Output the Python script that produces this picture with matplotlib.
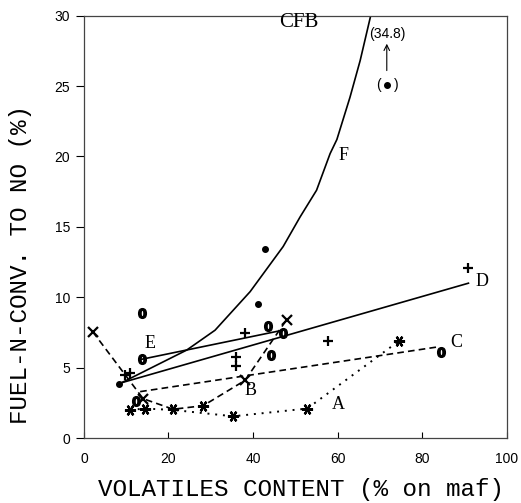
import numpy as np
import matplotlib
matplotlib.use("Agg")
import matplotlib.pyplot as plt

# curve F (CFB)
f_x = [8.9, 16.0, 24.3, 31.0, 39.3, 47.1, 51.1, 55.0, 58.2, 59.8, 62.9, 65.3, 67.8]
f_y = [3.93, 5.0, 6.25, 7.66, 10.4, 13.6, 15.7, 17.6, 20.2, 21.2, 24.2, 26.8, 30.0]

# straight lines D, E, C
d_x = [8.9, 90.9]
d_y = [3.93, 11.0]
e_x = [13.7, 46.8]
e_y = [5.6, 7.65]
c_x = [13.3, 84.2]
c_y = [3.3, 6.5]

# dashed line B
b_x = [2.1, 14.0, 21.1, 28.2, 38.1, 47.9]
b_y = [7.55, 2.8, 2.05, 2.3, 4.1, 8.4]

# dotted line A
a_x = [10.9, 14.4, 21.1, 35.3, 52.8, 74.5]
a_y = [2.0, 2.1, 2.0, 1.55, 2.1, 6.9]

# marker groups
o_x = [13.7, 13.7, 12.3, 43.6, 44.2, 47.1, 84.3]
o_y = [8.85, 5.6, 2.65, 7.95, 5.9, 7.45, 6.1]
plus_x = [9.7, 11.0, 38.1, 36.0, 36.0, 57.8, 90.9]
plus_y = [4.47, 4.64, 7.45, 5.75, 5.1, 6.9, 12.05]
x_x = [2.1, 14.0, 38.1, 47.9]
x_y = [7.55, 2.8, 4.1, 8.4]
star_x = [10.9, 14.4, 21.1, 28.2, 35.3, 52.8, 74.5]
star_y = [2.0, 2.1, 2.05, 2.3, 1.55, 2.1, 6.9]
dot_x = [8.4, 41.1, 42.7, 71.6]
dot_y = [3.85, 9.5, 13.4, 25.1]

labels = ["A", "B", "C", "D", "E", "F"]
label_x = [60.1, 39.3, 88.1, 94.0, 15.6, 61.3]
label_y = [2.4, 3.35, 6.8, 11.15, 6.7, 20.1]

fig = plt.figure(figsize=(5.21, 5.03), dpi=100)
ax = fig.add_axes([0.161, 0.129, 0.812, 0.84])

lw = 1.2
ax.plot(f_x, f_y, 'k-', lw=lw)
ax.plot(d_x, d_y, 'k-', lw=lw)
ax.plot(e_x, e_y, 'k-', lw=lw)
ax.plot(c_x, c_y, 'k', lw=lw, linestyle=(0, (4, 2.5)))
ax.plot(b_x, b_y, 'k', lw=lw, linestyle=(0, (4, 2.5)))
ax.plot(a_x, a_y, 'k', lw=1.4, linestyle=(0, (1, 3)))

ax.plot(o_x, o_y, 'k', ls='none', marker=r'$\mathbf{0}$', ms=7)
ax.plot(plus_x, plus_y, 'k+', ms=7, mew=1.6)
ax.plot(x_x, x_y, 'kx', ms=7, mew=1.6)
ax.plot(star_x, star_y, 'k', ls='none', marker=(6, 2, 90), ms=8, mew=1.6)
ax.plot(dot_x, dot_y, 'ko', ms=4)

serif = "Liberation Serif"
for lab, lx, ly in zip(labels, label_x, label_y):
    ax.text(lx, ly, lab, fontsize=13, family=serif, ha='center', va='center')
ax.text(50.7, 29.5, "CFB", fontsize=15, family=serif, ha='center', va='center')

# off-scale point
ax.text(69.6, 25.1, "(", fontsize=10, family="Liberation Sans", ha='center', va='center')
ax.text(73.9, 25.1, ")", fontsize=10, family="Liberation Sans", ha='center', va='center')
ax.annotate("", xy=(71.6, 28.2), xytext=(71.6, 25.9),
            arrowprops=dict(arrowstyle='->', lw=0.8, color='k'))
ax.text(71.8, 28.7, "(34.8)", fontsize=10, family="Liberation Sans", ha='center', va='center')

ax.set_xlim(0, 100)
ax.set_ylim(0, 30)
ax.set_xticks([0, 20, 40, 60, 80, 100])
ax.set_yticks([0, 5, 10, 15, 20, 25, 30])
ax.tick_params(axis='x', direction='in', length=4, width=0.8, labelsize=10, pad=10)
ax.tick_params(axis='y', direction='out', length=6, width=0.8, labelsize=10, pad=4)
for lbl in ax.get_xticklabels() + ax.get_yticklabels():
    lbl.set_family("Liberation Sans")
for s in ax.spines.values():
    s.set_linewidth(0.9)
    s.set_color('#444444')

fig.text(0.577, 0.026, "VOLATILES CONTENT (% on maf)", fontsize=17.5,
         family="Liberation Mono", ha='center', va='center')
fig.text(0.04, 1 - 265 / 503, "FUEL-N-CONV. TO NO (%)", fontsize=17.5,
         family="Liberation Mono", ha='center', va='center', rotation=90)

fig.savefig("out.png", dpi=100)
